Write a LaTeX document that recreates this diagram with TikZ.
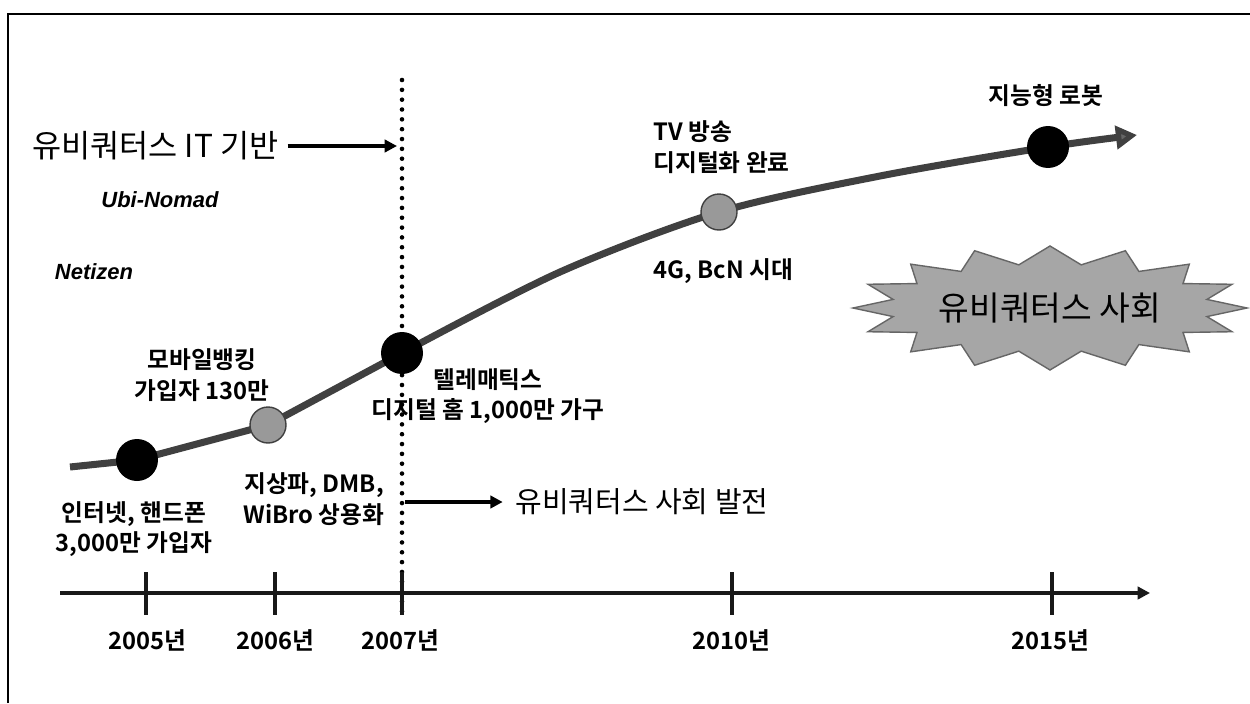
\documentclass[tikz,border=0pt]{standalone}
\usepackage{fontspec}
\newfontfamily\kr{Noto Sans CJK KR}[BoldFont={Noto Sans CJK KR Bold}]
\newfontfamily\lib{Liberation Sans}
\usetikzlibrary{arrows.meta}
\begin{document}
\begin{tikzpicture}[x=0.02cm,y=-0.02cm,
  lab/.style={font=\kr\bfseries\fontsize{13.5}{17.5}\selectfont, align=center, inner sep=0pt},
  yearlab/.style={font=\kr\bfseries\fontsize{13.5}{16}\selectfont, inner sep=0pt},
  bigdot/.style={circle, fill=black, minimum size=0.84cm, inner sep=0pt},
  graydot/.style={circle, fill=black!40, draw=black!75, line width=0.8pt, minimum size=0.72cm, inner sep=0pt},
  curveline/.style={line width=4pt, draw=black!75, line join=round},
  axisline/.style={line width=2.2pt, draw=black!90},
  tickline/.style={line width=2pt, draw=black!90},
  dotline/.style={line width=2.6pt, line cap=round, dash pattern=on 0pt off 5.6pt},
  arr/.style={line width=2.2pt, -{Triangle[length=7pt,width=7pt]}},
  burst/.style={fill=black!35, draw=black!60, line width=0.8pt},
  italab/.style={font=\lib\bfseries\itshape\fontsize{12.5}{14}\selectfont, inner sep=0pt},
  bigtext/.style={font=\kr\fontsize{#1}{#1}\selectfont, inner sep=0pt}
]
\useasboundingbox (0,0) rectangle (1250,703);
% frame
\draw[line width=1.2pt] (8,703) -- (8,14) -- (1250,14);

% starburst
\filldraw[burst] plot[samples at={0,...,31}, variable=\k]
  ({1050+ifthenelse(mod(\k,2)==0,197,160)*cos(\k*11.25)},
   {308+ifthenelse(mod(\k,2)==0,62,44)*sin(\k*11.25)}) -- cycle;
\node[bigtext=19] (society) at (1050,308) {유비쿼터스 사회};

% vertical dotted line
\coordinate (vtop) at (402,80);
\coordinate (vbot) at (402,617);
\draw[dotline] (vtop) -- (vbot);

% axis
\coordinate (ax0) at (60,593);
\coordinate (ax1) at (1150,593);
\draw[axisline, -{Triangle[length=7pt,width=7pt]}] (ax0) -- (ax1);
\foreach \x in {146,275,402,732,1052} {\draw[tickline] (\x,572) -- (\x,615);}

\node[yearlab] (y2005) at (147,640) {2005년};
\node[yearlab] (y2006) at (275,640) {2006년};
\node[yearlab] (y2007) at (400,640) {2007년};
\node[yearlab] (y2010) at (731,640) {2010년};
\node[yearlab] (y2015) at (1050,640) {2015년};

% growth curve
\coordinate (c0) at (70,467);
\coordinate (c2005) at (137,460);
\coordinate (c2006) at (268,425);
\coordinate (c2007) at (402,353);
\coordinate (m1) at (560,272);
\coordinate (c2010) at (719,212);
\coordinate (m2) at (880,176);
\coordinate (c2015) at (1048,147);
\coordinate (cend) at (1137,135);
\draw[curveline, -{Triangle[length=12pt,width=13pt,fill=black!60]}]
  (c0) -- (c2005) -- (c2006) -- (c2007)
  -- plot[smooth, tension=0.5] coordinates {(c2007) (m1) (c2010) (m2) (c2015) (cend)};

\node[bigdot] (d2005) at (c2005) {};
\node[graydot] (d2006) at (c2006) {};
\node[bigdot] (d2007) at (c2007) {};
\node[graydot] (d2010) at (c2010) {};
\node[bigdot] (d2015) at (c2015) {};

% labels
\node[lab] (l2005) at (134,529) {인터넷, 핸드폰\\3,000만 가입자};
\node[lab] (l2006a) at (202,375) {모바일뱅킹\\가입자 130만};
\node[lab] (l2006b) at (314,499) {지상파, DMB,\\WiBro 상용화};
\node[lab] (l2007) at (488,396) {텔레매틱스\\디지털 홈 1,000만 가구};
\node[lab, align=left, anchor=west] (l2010a) at (653,147) {TV 방송\\디지털화 완료};
\node[lab, anchor=west] (l2010b) at (653,271) {4G, BcN 시대};
\node[lab] (l2015) at (1046,96) {지능형 로봇};

% left texts
\node[bigtext=18, anchor=west] (title) at (32,146) {유비쿼터스 IT 기반};
\coordinate (tarr) at (397,146);
\draw[arr, shorten <=5pt] (title.east) -- (tarr);
\node[italab] (ubi) at (160,200) {Ubi-Nomad};
\node[italab] (net) at (94,272) {Netizen};

% development arrow
\coordinate (dstart) at (405,502);
\node[bigtext=16.5, anchor=west] (dev) at (515,502) {유비쿼터스 사회 발전};
\draw[arr, shorten >=7pt] (dstart) -- (dev.west);
\end{tikzpicture}
\end{document}
